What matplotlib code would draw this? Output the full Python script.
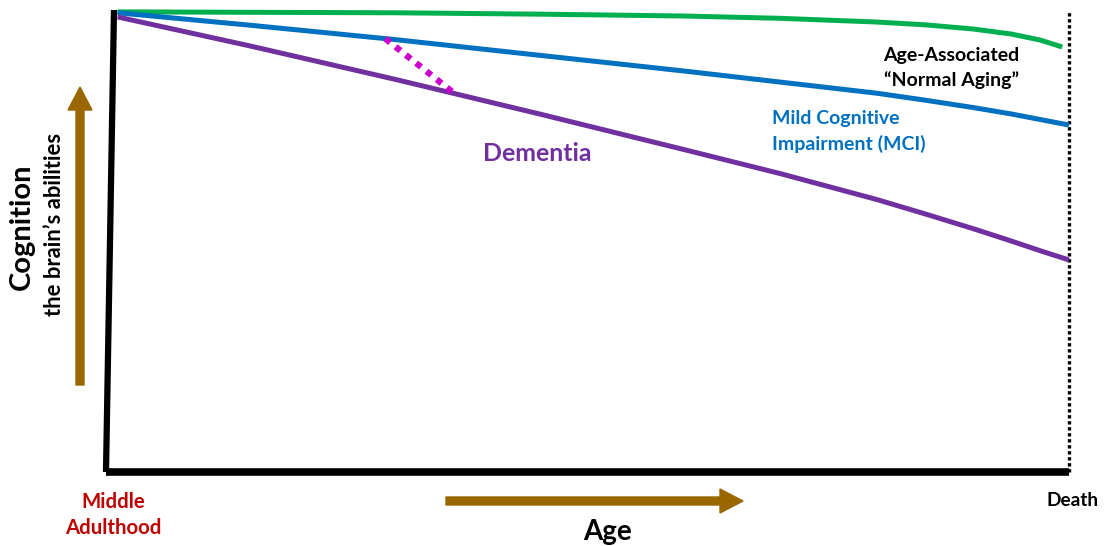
import numpy as np
import matplotlib
matplotlib.use("Agg")
from matplotlib import pyplot as plt
from matplotlib.patches import FancyArrow
from matplotlib.transforms import IdentityTransform

# age axis: 0 = middle adulthood, 100 = death
age = np.array([1.2, 15, 30, 45, 60, 70, 80, 85, 90, 94, 97, 100])
age_normal = np.array([1.2, 15, 30, 45, 60, 70, 80, 85, 90, 94, 97, 99.3])

# cognition (0-100)
normal_aging = np.array([99.6, 99.5, 99.4, 99.1, 98.7, 98.2, 97.4, 96.8,
                         95.9, 94.8, 93.5, 92.0])
mci = np.array([99.4, 96.7, 93.6, 90.2, 86.8, 84.4, 82.0, 80.5,
                78.9, 77.5, 76.3, 75.1])
dementia = np.array([98.5, 92.2, 85.0, 77.5, 69.8, 64.6, 59.0, 55.9,
                     52.7, 50.0, 47.9, 45.9])

# MCI -> dementia conversion (dotted link)
conv_start, conv_end = 29.0, 36.2

GREEN = "#00B050"
BLUE = "#0070C0"
PURPLE = "#7030A0"
MAGENTA = "#CC00CC"
BROWN = "#996600"
RED = "#C00000"

plt.rcParams['font.family'] = ['Lato', 'DejaVu Sans']
plt.rcParams['font.weight'] = 'bold'


def main():
    fig = plt.figure(figsize=(11.04, 5.46), dpi=100)
    ax = fig.add_axes([106 / 1104, 74 / 546, 963 / 1104, 462 / 546])
    ax.set_xlim(0, 100)
    ax.set_ylim(0, 100)
    ax.axis('off')

    # frame (slightly slanted left edge like the original)
    ax.plot([0.0083, 0], [1, 0], color='black', lw=4.5, transform=ax.transAxes,
            clip_on=False, solid_capstyle='butt')
    ax.plot([0, 1], [0, 0], color='black', lw=5.5, transform=ax.transAxes,
            clip_on=False, solid_capstyle='butt')
    ax.plot([100, 100], [0, 100], color='black', lw=2.4, ls=(0, (1, 0.8)),
            clip_on=False)

    ax.plot(age_normal, normal_aging, color=GREEN, lw=3.6, clip_on=False,
            solid_capstyle='butt')
    ax.plot(age, mci, color=BLUE, lw=3.6, clip_on=False, solid_capstyle='butt')
    ax.plot(age, dementia, color=PURPLE, lw=3.6, clip_on=False,
            solid_capstyle='butt')

    ys = np.interp(conv_start, age, mci)
    ye = np.interp(conv_end, age, dementia)
    ax.plot([conv_start, conv_end], [ys, ye], color=MAGENTA, lw=4.5,
            ls=(0, (1, 1.1)))

    # labels
    ax.text(87.8, 87.4, 'Age-Associated\n\u201cNormal Aging\u201d', ha='center',
            va='center', fontsize=14, color='black', linespacing=1.45)
    ax.text(69.2, 73.7, 'Mild Cognitive\nImpairment (MCI)', ha='left',
            va='center', fontsize=14, color=BLUE, linespacing=1.55)
    ax.text(39.15, 69.0, 'Dementia', ha='left', va='center', fontsize=17.9,
            color=PURPLE)

    fig.text(22 / 1104, 1 - 226.5 / 546, 'Cognition', rotation=90, ha='center',
             va='center', fontsize=21)
    fig.text(55 / 1104, 1 - 224.5 / 546, 'the brain\u2019s abilities',
             rotation=90, ha='center', va='center', fontsize=15.8)
    fig.text(113.5 / 1104, 1 - 515 / 546, 'Middle\nAdulthood', ha='center',
             va='center', fontsize=14.7, color=RED, linespacing=1.4)
    fig.text(1072.5 / 1104, 1 - 506.5 / 546, 'Death', ha='center',
             va='baseline', fontsize=13.7)
    fig.text(608 / 1104, 1 - 540 / 546, 'Age', ha='center', va='baseline',
             fontsize=20)

    # brown direction arrows (figure pixels, origin bottom-left)
    fig.add_artist(FancyArrow(80, 546 - 385, 0, 298, width=8, head_width=24,
                              head_length=23, length_includes_head=True,
                              color=BROWN, transform=IdentityTransform()))
    fig.add_artist(FancyArrow(446, 546 - 501, 297, 0, width=8, head_width=24,
                              head_length=23, length_includes_head=True,
                              color=BROWN, transform=IdentityTransform()))

    fig.savefig('out.png', dpi=100)


if __name__ == "__main__":
    main()
